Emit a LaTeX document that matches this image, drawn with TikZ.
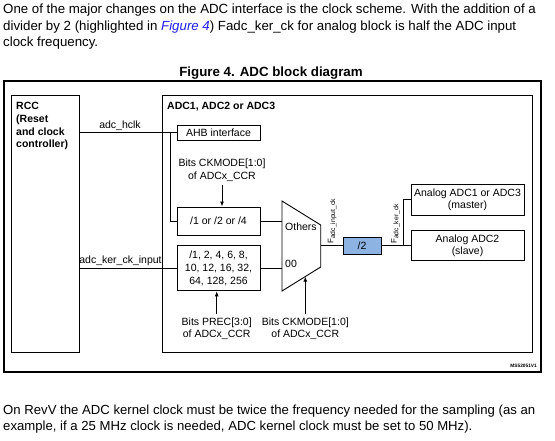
\documentclass[tikz,border=0pt]{standalone}
\usepackage{fontspec}
\setmainfont{Liberation Sans}
\usetikzlibrary{arrows.meta,calc}
\definecolor{linkblue}{RGB}{30,30,235}
\definecolor{halfblue}{RGB}{141,179,226}
\newcommand\myBody{\fontsize{13.28}{16.5}\selectfont}
\newcommand\myBodyLow{\fontsize{13.15}{16.5}\selectfont}
\newcommand\myBodyB{\fontsize{13.33}{16.5}\selectfont\bfseries}
\newcommand\myDiag{\fontsize{10.5}{12.7}\selectfont}
\newcommand\myDiagB{\fontsize{10.5}{12.7}\selectfont\bfseries}
\newcommand\myFF{\fontsize{8}{8}\selectfont}
\newcommand\mySub{\fontsize{6.8}{7}\selectfont}
\newcommand\myTiny{\fontsize{4.8}{6}\selectfont\bfseries}
\begin{document}
\begin{tikzpicture}[x=1pt,y=-1pt,font=\myDiag,
  box/.style={draw,line width=0.9pt,inner sep=0,align=center},
  conn/.style={line width=0.9pt},
  arr/.style={line width=0.9pt,-{Latex[length=5pt,width=4pt]}},
  lbl/.style={inner sep=0}]
\useasboundingbox (0,0) rectangle (555,440);
% paragraph above
\node[lbl,anchor=base west,font=\myBody] (p1) at (3,13.5) {One of the major changes on the ADC interface is the clock scheme. With the addition of a};
\node[lbl,anchor=base west,font=\myBody] (p2) at (3,30) {divider by 2 (highlighted in {\color{linkblue}\itshape Figure 4}) Fadc\_ker\_ck for analog block is half the ADC input};
\node[lbl,anchor=base west,font=\myBody] (p3) at (3,46.5) {clock frequency.};
\node[lbl,anchor=base,font=\myBodyB] (title) at (271,76.5) {Figure 4. ADC block diagram};
% frame
\node[draw,line width=1.1pt,minimum width=537,minimum height=291,inner sep=0] (frame) at (272.5,226.5) {};
% RCC
\node[box,minimum width=68,minimum height=257] (rcc) at (45,223.5) {};
\node[lbl,anchor=north west,align=left,font=\myDiagB] (rcct) at (16,102.3) {RCC\\(Reset\\and clock\\controller)};
% ADC block
\node[box,minimum width=370,minimum height=257] (adc) at (347,223.5) {};
\node[lbl,anchor=north west,font=\myDiagB] (adct) at (167,102.3) {ADC1, ADC2 or ADC3};
\node[box,minimum width=83,minimum height=15] (ahb) at (218.5,132.5) {AHB interface};
\node[box,minimum width=83,minimum height=28] (div) at (218.5,221) {/1 or /2 or /4};
\node[box,minimum width=83,minimum height=45] (presc) at (218.5,268.3) {/1, 2, 4, 6, 8,\\10, 12, 16, 32,\\64, 128, 256};
\node[box,fill=halfblue,minimum width=38,minimum height=17] (half) at (362,245.7) {/2};
\node[box,minimum width=113,minimum height=31] (master) at (467.5,199.7) {Analog ADC1 or ADC3\\(master)};
\node[box,minimum width=113,minimum height=30] (slave) at (467.5,245.7) {Analog ADC2\\(slave)};
% mux
\coordinate (mtl) at (282,201);
\coordinate (mtr) at (320.7,225);
\coordinate (mbr) at (320.7,267);
\coordinate (mbl) at (282,291);
\draw[conn] (mtl) -- (mtr) -- (mbr) -- (mbl) -- cycle;
\node[lbl,anchor=base west] (oth) at (285,230) {Others};
\node[lbl,anchor=base west] (zz) at (285,267.7) {00};
\coordinate (mout) at (320.7,245.7);
\coordinate (mtip) at ($(mbl)!0.6!(mbr)$);
% control texts
\node[lbl,align=center,anchor=north] (ck1) at (222,159) {Bits CKMODE[1:0]\\of ADCx\_CCR};
\node[lbl,align=center,anchor=north] (prec) at (216.7,317.3) {Bits PREC[3:0]\\of ADCx\_CCR};
\node[lbl,align=center,anchor=north] (ck2) at (305.3,317.3) {Bits CKMODE[1:0]\\of ADCx\_CCR};
% connectors
\node[lbl,anchor=base] (hclk) at (120,128.5) {adc\_hclk};
\node[lbl,anchor=base] (kerin) at (120.5,263.5) {adc\_ker\_ck\_input};
\draw[conn] (ahb.west -| rcc.east) -- (ahb.west);
\coordinate (j1) at (170.5,132.5);
\draw[conn] (j1) |- (div.west);
\draw[conn] (presc.west -| rcc.east) -- (presc.west);
\draw[conn] (div.east) -- (div.east -| mtl);
\draw[conn] (presc.east) -- (presc.east -| mtl);
\draw[conn] (mout) -- (half.west);
\coordinate (j2) at (403.3,245.7);
\draw[conn] (half.east) -- (slave.west);
\draw[conn] (j2) |- (master.west);
\draw[arr] ([yshift=-3pt]ck1.south) -- (ck1.south |- div.north);
\draw[arr] ([yshift=3pt]prec.north) -- (prec.north |- presc.south);
\draw[arr] ([yshift=3pt]ck2.north) -- (ck2.north |- mtip);
% F labels
\node[lbl,rotate=90,anchor=base west] (fin) at (333.3,244) {{\myFF F}\raisebox{-1.7pt}{\mySub adc\_input\_ck}};
\node[lbl,rotate=90,anchor=base west] (fker) at (396.7,244) {{\myFF F}\raisebox{-1.7pt}{\mySub adc\_ker\_ck}};
\node[lbl,anchor=base east,font=\myTiny] (ms) at (537,367.7) {MS52051V1};
% paragraph below
\node[lbl,anchor=base west,font=\myBodyLow] (q1) at (3,414) {On RevV the ADC kernel clock must be twice the frequency needed for the sampling (as an};
\node[lbl,anchor=base west,font=\myBodyLow] (q2) at (3,430.5) {example, if a 25 MHz clock is needed, ADC kernel clock must be set to 50 MHz).};
\end{tikzpicture}
\end{document}
